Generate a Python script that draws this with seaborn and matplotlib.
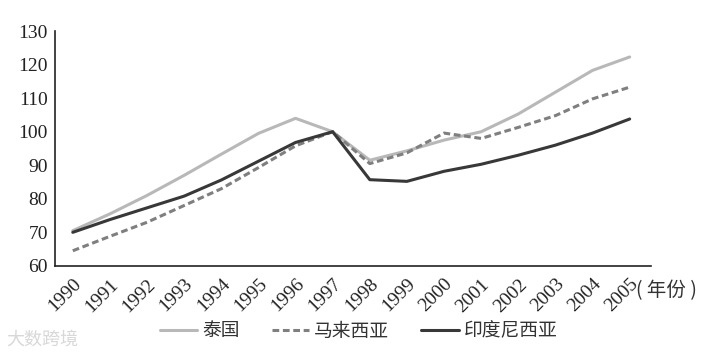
import pandas as pd
import matplotlib.pyplot as plt
import seaborn as sns

years = list(range(1990, 2006))
thailand = [70.5, 75.5, 81, 87, 93.3, 99.5, 104, 100, 91.5, 94.3, 97.5, 100, 105.3, 111.8, 118.3, 122.3]
malaysia = [64.5, 68.8, 73, 78, 83, 89.3, 95.8, 100, 90.5, 93.7, 99.6, 98, 101.3, 104.8, 109.8, 113.3]
indonesia = [70, 73.8, 77.3, 80.8, 85.6, 91.2, 96.8, 100, 85.7, 85.2, 88.2, 90.3, 93, 96, 99.6, 103.8]
names = ['泰国', '马来西亚', '印度尼西亚']

df = pd.DataFrame({'year': years, names[0]: thailand, names[1]: malaysia, names[2]: indonesia})
long_df = df.melt(id_vars='year', var_name='country', value_name='value')

sns.set_style('white')
plt.rcParams['font.family'] = ['Liberation Serif', 'Noto Sans CJK SC', 'DejaVu Sans']

fig = plt.figure(figsize=(7.28, 3.54), dpi=100)
ax = fig.add_axes([0.0755, 0.249, 0.8185, 0.663])

colors = {'泰国': '#b8b8b8', '马来西亚': '#7f7f7f', '印度尼西亚': '#383838'}
dashes = {'泰国': '', '马来西亚': (2.2, 1.2), '印度尼西亚': ''}

sns.lineplot(data=long_df, x='year', y='value', hue='country', style='country',
             palette=colors, dashes=dashes, linewidth=2.2, ax=ax, legend=False)

ax.set_xlim(1989.52, 2005.57)
ax.set_ylim(60, 130)
ax.set_yticks(range(60, 131, 10))
ax.set_xticks(years)
ax.set_xticklabels([str(y) for y in years], rotation=45, ha='right', rotation_mode='anchor')
ax.tick_params(axis='both', direction='in', length=6, width=1, color='#222222', labelsize=14,
               labelcolor='#222222')
ax.tick_params(axis='x', pad=7)
ax.tick_params(axis='y', pad=5)
ax.set_xlabel('')
ax.set_ylabel('')
for s in ['top', 'right']:
    ax.spines[s].set_visible(False)
for s in ['left', 'bottom']:
    ax.spines[s].set_color('#222222')
    ax.spines[s].set_linewidth(1.2)

fig.text(0.874, 0.18, '( 年份 )', fontsize=14, color='#333333',
         family=['Noto Sans CJK SC'], ha='left', va='center')

handles = [plt.Line2D([], [], color=colors[n], linewidth=2.2,
                      linestyle=(0, dashes[n]) if dashes[n] else '-') for n in names]
leg = fig.legend(handles, names, loc='center', bbox_to_anchor=(0.4925, 0.065), ncol=3,
                 frameon=False, handlelength=2.0, handletextpad=0.27, columnspacing=1.7,
                 prop={'family': 'Noto Sans CJK SC', 'size': 13.5})
for t in leg.get_texts():
    t.set_color('#333333')

fig.text(0.008, 0.04, '大数跨境', fontsize=13, color='#d8d8d8',
         family=['Noto Sans CJK SC'], ha='left', va='center')

fig.savefig('out.png', dpi=100)
